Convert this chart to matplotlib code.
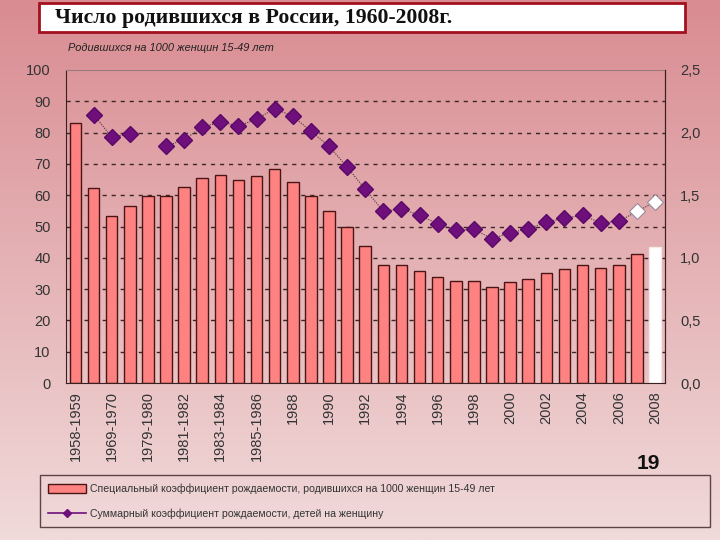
import numpy as np
import matplotlib
matplotlib.use("Agg")
import matplotlib.pyplot as plt
from matplotlib.lines import Line2D
from matplotlib.patches import Patch, Rectangle

# data (hidden labels left blank)
labels = ["1958-1959", "", "1969-1970", "", "1979-1980", "", "1981-1982", "",
          "1983-1984", "", "1985-1986", "", "1988", "", "1990", "", "1992", "",
          "1994", "", "1996", "", "1998", "", "2000", "", "2002", "", "2004", "",
          "2006", "", "2008"]
births = [83.1, 62.2, 53.4, 56.5, 59.7, 59.9, 62.5, 65.6, 66.3, 64.9, 66.0,
          68.3, 64.2, 59.9, 55.1, 50.0, 43.8, 37.8, 37.8, 35.9, 33.8, 32.5,
          32.5, 30.8, 32.2, 33.1, 35.1, 36.4, 37.8, 36.9, 37.8, 41.3, 43.6]
tfr = [np.nan, 2.144, 1.965, 1.989, np.nan, 1.891, 1.944, 2.043, 2.085, 2.053,
       2.107, 2.192, 2.131, 2.011, 1.891, 1.725, 1.547, 1.371, 1.392, 1.339,
       1.272, 1.219, 1.227, 1.152, 1.200, 1.232, 1.285, 1.317, 1.339, 1.280,
       1.291, 1.371, 1.445]
n_estimate = 2   # last points drawn hollow (estimates)

title = "Число родившихся в России, 1960-2008г."
subtitle = "Родившихся на 1000 женщин 15-49 лет"
leg_bar = "Специальный коэффициент рождаемости, родившихся на 1000 женщин 15-49 лет"
leg_line = "Суммарный коэффициент рождаемости, детей на женщину"

plt.rcParams['font.family'] = ['Liberation Sans', 'DejaVu Sans']

fig = plt.figure(figsize=(7.2, 5.4), dpi=100)

# background gradient
bg = fig.add_axes([0, 0, 1, 1], zorder=-10)
top_c = np.array([217, 140, 146]) / 255
bot_c = np.array([241, 218, 218]) / 255
t = np.linspace(0, 1, 256)[:, None, None]
grad = top_c * (1 - t) + bot_c * t
bg.imshow(np.repeat(grad, 4, axis=1), aspect='auto', extent=[0, 1, 0, 1])
bg.axis('off')

# title box
fig.patches.append(Rectangle((0.054, 0.94), 0.898, 0.055, transform=fig.transFigure,
                             facecolor='white', edgecolor='#a3101e', lw=2, zorder=1))
fig.text(0.077, 0.966, title, family='Liberation Serif', weight='bold',
         fontsize=15.7, va='center', ha='left', color='#111111')

ax = fig.add_axes([0.0917, 0.2907, 0.8319, 0.5797])
ax.patch.set_alpha(0)
x = np.arange(len(births))
colors = ['#ff8282'] * (len(births) - 1) + ['white']
edges = ['#4a1515'] * (len(births) - 1) + ['#f4eaea']
ax.bar(x, births, width=0.64, color=colors, edgecolor=edges, linewidth=1.0, zorder=2)
ax.set_ylim(0, 100)
ax.set_xlim(-0.52, len(births) - 0.45)
ax.set_yticks(range(0, 101, 10))
ax.set_xticks(x)
ax.set_xticklabels(labels, rotation=90, fontsize=10.5, color='#333333')
ax.tick_params(axis='both', length=0, labelsize=10.5, labelcolor='#333333')
ax.tick_params(axis='y', pad=11)
ax.tick_params(axis='x', pad=6)
for v in range(10, 100, 10):
    ax.axhline(v, color='#3a2626', lw=1.0, ls=(0, (3, 3.5)), zorder=1)
for side in ['left', 'bottom', 'right']:
    ax.spines[side].set_color('#3a2020')
ax.spines['top'].set_color('#9a7a7a')
ax.spines['top'].set_linewidth(0.8)

ax2 = ax.twinx()
ax2.set_ylim(0, 2.5)
ax2.set_yticks(np.arange(0, 2.51, 0.5))
ax2.set_yticklabels([f"{v:.1f}".replace('.', ',') for v in np.arange(0, 2.51, 0.5)])
ax2.tick_params(axis='y', length=0, labelsize=10.5, labelcolor='#333333', pad=11)
for side in ['left', 'bottom', 'top']:
    ax2.spines[side].set_visible(False)
ax2.spines['right'].set_color('#3a2020')

tfr_arr = np.array(tfr)
ax2.plot(x, tfr_arr, ls=(0, (1, 1.2)), lw=0.8, color='#4a3040', zorder=3)
k = len(tfr) - n_estimate
ax2.plot(x[:k], tfr_arr[:k], ls='none', marker='D', ms=8.5, color='#6e0f7c',
         mec='#5a0a66', zorder=4)
ax2.plot(x[k:], tfr_arr[k:], ls='none', marker='D', ms=8.5, color='white',
         mec='#9a8a9a', mew=0.8, zorder=4)

fig.text(0.094, 0.905, subtitle, style='italic', fontsize=7.9, color='#222222')
fig.text(0.884, 0.132, "19", weight='bold', fontsize=15, color='#111111')

handles = [Patch(facecolor='#ff8282', edgecolor='#4a1515', lw=1.0),
           Line2D([], [], color='#6e0f7c', lw=1.2, marker='D', ms=4.5)]
fig.legend(handles, [leg_bar, leg_line], loc='lower left',
           bbox_to_anchor=(0.0556, 0.024, 0.93, 0.093), mode='expand',
           frameon=True, fancybox=False, edgecolor='#3a2020', facecolor='none',
           prop={'size': 7.6}, labelcolor='#333333',
           handlelength=3.6, handleheight=0.9, labelspacing=1.3,
           borderpad=0.8, handletextpad=0.3, borderaxespad=0, ncol=1)

fig.savefig("out.png", dpi=100)
